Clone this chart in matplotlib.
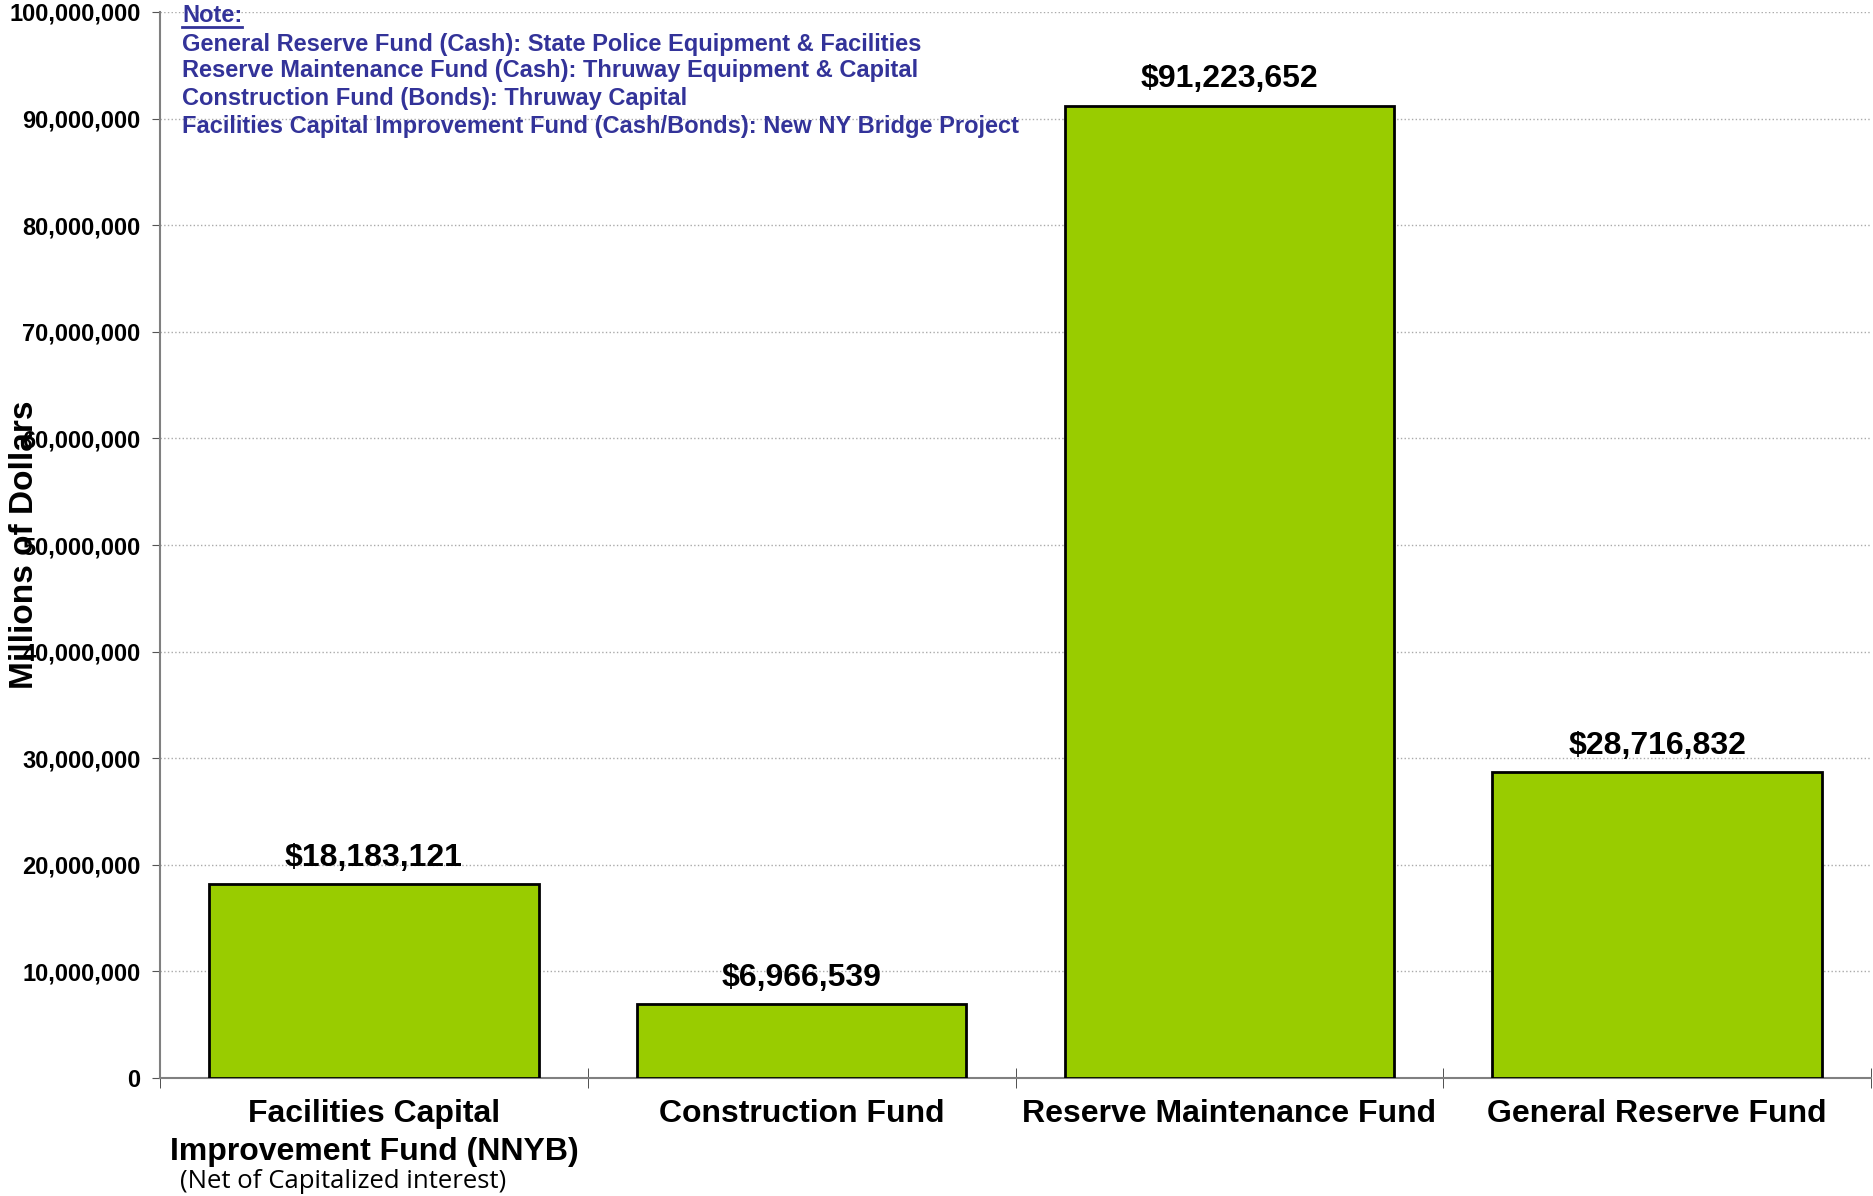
import matplotlib
matplotlib.use("Agg")
import matplotlib.pyplot as plt
from matplotlib.lines import Line2D
from matplotlib.ticker import FuncFormatter

categories = ["Facilities Capital\nImprovement Fund (NNYB)", "Construction Fund",
              "Reserve Maintenance Fund", "General Reserve Fund"]
values = [18183121, 6966539, 91223652, 28716832]
note_lines = [
    "General Reserve Fund (Cash): State Police Equipment & Facilities",
    "Reserve Maintenance Fund (Cash): Thruway Equipment & Capital",
    "Construction Fund (Bonds): Thruway Capital",
    "Facilities Capital Improvement Fund (Cash/Bonds): New NY Bridge Project",
]

plt.rcParams['font.family'] = ['Liberation Sans', 'DejaVu Sans']

W, H = 1873, 1196
fig = plt.figure(figsize=(W / 100, H / 100), dpi=100)
ax = fig.add_axes([160 / W, 1 - 1078 / H, 1711 / W, 1066 / H])

x = range(len(values))
ax.bar(x, values, width=0.77, color='#99CC00', edgecolor='black', linewidth=2, zorder=3)

for i, v in enumerate(values):
    ax.annotate('${:,}'.format(v), (i, v), xytext=(0, 8), textcoords='offset points',
                ha='center', va='bottom', fontsize=23, fontweight='bold')

ax.set_xlim(-0.5, 3.5)
ax.set_ylim(0, 100000000)
ax.set_yticks(range(0, 100000001, 10000000))
ax.yaxis.set_major_formatter(FuncFormatter(lambda v, p: '{:,}'.format(int(v))))
ax.tick_params(axis='y', labelsize=17, direction='out', length=6, color='#555555', pad=8)
for lab in ax.get_yticklabels():
    lab.set_fontweight('bold')

ax.set_xticks(list(x))
ax.set_xticklabels(categories, fontsize=23, fontweight='bold', linespacing=1.35)
ax.tick_params(axis='x', which='major', length=0, pad=15)
ax.set_xticks([-0.5, 0.5, 1.5, 2.5, 3.5], minor=True)
ax.tick_params(axis='x', which='minor', direction='inout', length=14, color='#333333')

ax.grid(axis='y', linestyle=':', color='#aaaaaa', linewidth=1, zorder=0)
for s in ['top', 'right']:
    ax.spines[s].set_visible(False)
for s in ['left', 'bottom']:
    ax.spines[s].set_color('#808080')
    ax.spines[s].set_linewidth(1.5)

ax.set_ylabel('Millions of Dollars', fontsize=24, fontweight='bold')
ax.yaxis.set_label_coords(-0.070, 0.5)

fig.text(180 / W, 1 - 1181 / H, '(Net of Capitalized interest)', fontsize=18.5,
         family=['Open Sans', 'DejaVu Sans'], va='center', ha='left')

blue = '#333399'
note = fig.text(182 / W, 1 - 16 / H, 'Note:', fontsize=17, fontweight='bold',
                color=blue, va='center', ha='left')
ys = [44, 71, 99, 127]
for yy, line in zip(ys, note_lines):
    fig.text(182 / W, 1 - yy / H, line, fontsize=17, fontweight='bold',
             color=blue, va='center', ha='left')

fig.canvas.draw()
bb = note.get_window_extent()
fig.add_artist(Line2D([bb.x0 / W, bb.x1 / W], [(bb.y0 + 1) / H, (bb.y0 + 1) / H],
                      color=blue, linewidth=2, transform=fig.transFigure))

fig.savefig('out.png', dpi=100)
